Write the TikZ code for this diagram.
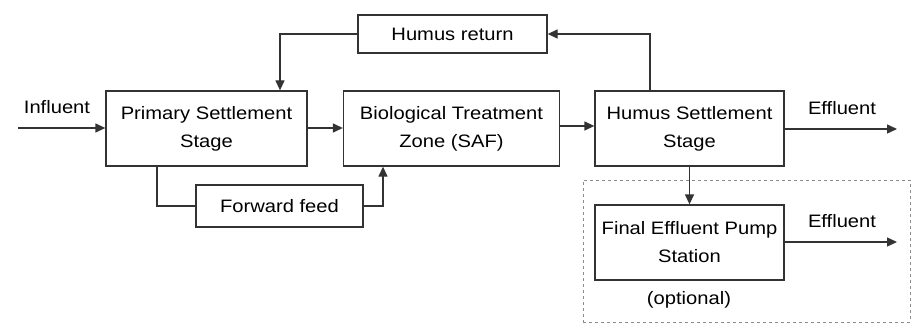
\documentclass[tikz,border=0pt]{standalone}
\usepackage{fontspec}
\setmainfont[FakeStretch=1.12]{Liberation Sans}
\usetikzlibrary{arrows.meta}
\begin{document}
\begin{tikzpicture}[x=1pt,y=-1pt,
  box/.style={draw=black!80,line width=1.3pt,minimum height=75pt,align=center,font=\fontsize{18}{28}\selectfont,inner sep=0pt},
  sbox/.style={draw=black!80,line width=1.3pt,align=center,font=\fontsize{18}{20}\selectfont,inner sep=0pt},
  lbl/.style={font=\fontsize{18}{20}\selectfont,inner sep=0pt},
  conn/.style={draw=black!80,line width=1.3pt},
  arr/.style={conn,-{Triangle[length=10pt,width=9pt]}}]
\useasboundingbox (0,0) rectangle (912,326);
\node[box,minimum width=201pt] (prim) at (206.5,128.5) {Primary Settlement\\Stage};
\node[box,minimum width=216pt] (bio) at (451.5,128.5) {Biological Treatment\\Zone (SAF)};
\node[box,minimum width=189pt] (hum) at (689.5,128.5) {Humus Settlement\\Stage};
\node[sbox,minimum width=189pt,minimum height=38pt] (ret) at (452.5,34) {Humus return};
\node[sbox,minimum width=167pt,minimum height=42pt] (fwd) at (279.5,206) {Forward feed};
\node[box,minimum width=189pt] (fin) at (689.5,242.5) {Final Effluent Pump\\Station};
\node[draw=black!45,dashed,line width=0.8pt,minimum width=327pt,minimum height=142pt,inner sep=0pt] (opt) at (746.5,251) {};
\node[lbl] (optl) at (689,300) {(optional)};
\node[lbl] (infl) at (57,107) {Influent};
\node[lbl] (eff1) at (842,108) {Effluent};
\node[lbl] (eff2) at (842,221) {Effluent};
\coordinate (in0) at (18,128);
\coordinate (out1) at (897,129);
\coordinate (out2) at (897,242);
\draw[arr] (in0) -- (prim.west |- in0);
\draw[arr] (prim.east |- 0,128) -- (bio.west |- 0,128);
\draw[arr] (bio.east |- 0,126) -- (hum.west |- 0,126);
\draw[arr] (hum.east |- out1) -- (out1);
\draw[arr] (fin.east |- out2) -- (out2);
\draw[arr] (hum.south) -- (fin.north);
\draw[arr] (hum.north -| 650,0) |- (ret.east);
\draw[arr] (ret.west) -| (prim.north -| 280,0);
\draw[conn] (prim.south -| 157,0) |- (fwd.west);
\draw[arr] (fwd.east) -| (bio.south -| 383,0);
\end{tikzpicture}
\end{document}
